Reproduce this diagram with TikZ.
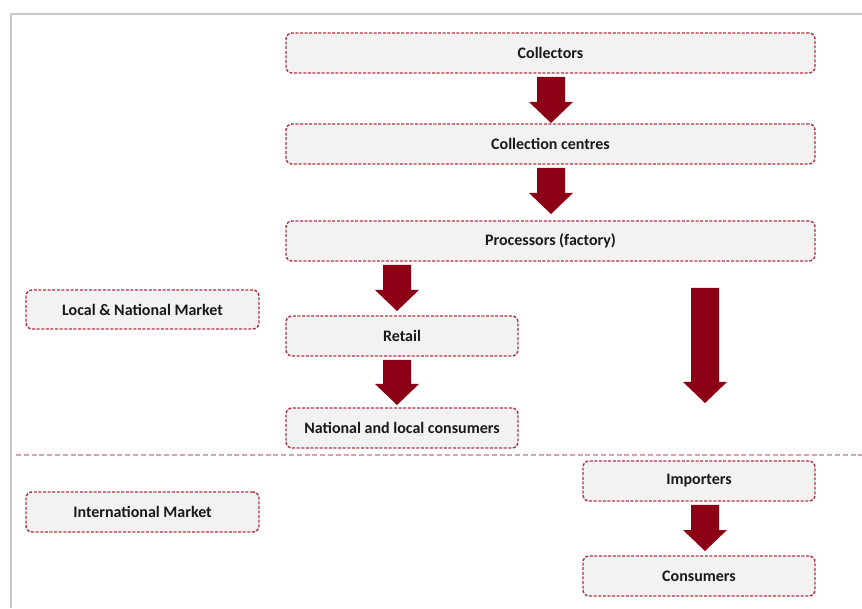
\documentclass[tikz,border=0pt]{standalone}
\usepackage{fontspec}
\setmainfont{Carlito}
\usetikzlibrary{calc}
\definecolor{arrowc}{HTML}{8B0014}
\definecolor{boxborder}{HTML}{B03443}
\definecolor{boxfill}{HTML}{F2F2F2}
\definecolor{sepc}{HTML}{D9A3AB}
\definecolor{framec}{HTML}{C8C8C8}
\tikzset{
  flowbox/.style={draw=boxborder, fill=boxfill, line width=1.4pt,
    dash pattern=on 3pt off 1.6pt, rounded corners=6pt,
    font=\bfseries\fontsize{16}{19}\selectfont, text=black!90,
    inner sep=0pt, minimum height=40pt},
  arrowfill/.style={fill=arrowc, draw=none}
}
\newcommand\farrow[3]{% from, to, x
  \fill[arrowfill] let \p1=(#1), \p2=(#2) in
    (#3-14,\y1) -- (#3+14,\y1) -- (#3+14,\y2+21) -- (#3+22,\y2+21)
    -- (#3,\y2) -- (#3-22,\y2+21) -- (#3-14,\y2+21) -- cycle;}
\begin{document}
\begin{tikzpicture}[x=1pt,y=1pt]
\useasboundingbox (0,0) rectangle (862,608);
% frame
\draw[framec, line width=2pt] (11,0) -- (11,594) -- (862,594);
% nodes
\node[flowbox, minimum width=529pt] (col) at (550.5,555) {Collectors};
\node[flowbox, minimum width=529pt] (cc) at (550.5,464) {Collection centres};
\node[flowbox, minimum width=529pt] (proc) at (550.5,367) {Processors (factory)};
\node[flowbox, minimum width=233pt, minimum height=39pt] (lnm) at (142.5,298.5) {Local \& National Market};
\node[flowbox, minimum width=232pt] (ret) at (402,272) {Retail};
\node[flowbox, minimum width=232pt] (nat) at (402,180) {National and local consumers};
\node[flowbox, minimum width=233pt] (im) at (142.5,96) {International Market};
\node[flowbox, minimum width=232pt] (imp) at (699,127) {Importers};
\node[flowbox, minimum width=232pt] (cons) at (699,32) {Consumers};
% separator
\coordinate (sepl) at (16,153);
\coordinate (sepr) at (862,153);
\draw[sepc, line width=1.6pt, dash pattern=on 5pt off 2.8pt] (sepl) -- (sepr);
% arrow end points
\coordinate (a1s) at (551,531); \coordinate (a1e) at (551,485);
\coordinate (a2s) at (551,440); \coordinate (a2e) at (551,394);
\coordinate (a3s) at (397,343); \coordinate (a3e) at (397,297);
\coordinate (a4s) at (397,248); \coordinate (a4e) at (397,203);
\coordinate (bigs) at (705,320); \coordinate (bige) at (705,205);
\coordinate (a6s) at (705,103); \coordinate (a6e) at (705,57);
% arrows
\farrow{a1s}{a1e}{551}
\farrow{a2s}{a2e}{551}
\farrow{a3s}{a3e}{397}
\farrow{a4s}{a4e}{397}
\farrow{bigs}{bige}{705}
\farrow{a6s}{a6e}{705}
\end{tikzpicture}
\end{document}
